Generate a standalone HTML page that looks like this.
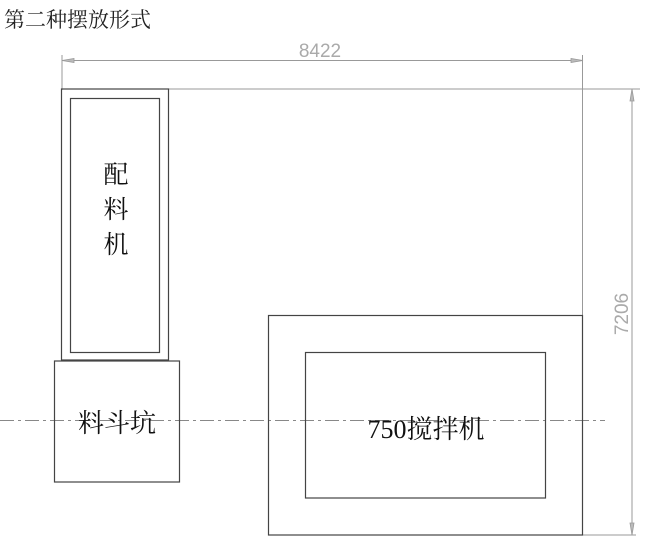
<!DOCTYPE html>
<html><head><meta charset="utf-8"><style>
html,body{margin:0;padding:0;background:#fff;}
svg{display:block;}
</style></head><body>
<svg width="660" height="551" viewBox="0 0 660 551" xmlns="http://www.w3.org/2000/svg">
<rect width="660" height="551" fill="#fff"/>
<text x="4" y="27" font-family="Noto Serif CJK SC, Liberation Serif, serif" font-size="21" fill="#222">第二种摆放形式</text>
<g stroke="#999" stroke-width="1" fill="none">
<line x1="62" y1="55" x2="62" y2="90"/>
<line x1="582.5" y1="55" x2="582.5" y2="535"/>
<line x1="62" y1="60.5" x2="583" y2="60.5"/>
<line x1="169" y1="89" x2="640" y2="89"/>
<line x1="632" y1="89" x2="632" y2="535"/>
<line x1="582" y1="535" x2="636" y2="535"/>
</g>
<g fill="#bbb" stroke="#999" stroke-width="0.8">
<polygon points="62,60.5 74,58.5 74,62.5"/>
<polygon points="583,60.5 571,58.5 571,62.5"/>
<polygon points="632,89 630,101 634,101"/>
<polygon points="632,535 630,523 634,523"/>
</g>
<text x="320" y="57" text-anchor="middle" font-family="Liberation Sans, sans-serif" font-size="19" fill="#aaa">8422</text>
<text transform="translate(628,314) rotate(-90)" text-anchor="middle" font-family="Liberation Sans, sans-serif" font-size="19" fill="#aaa">7206</text>
<line x1="0" y1="420.5" x2="605" y2="420.5" stroke="#888" stroke-width="1" stroke-dasharray="14,4,3,4"/>
<g fill="none" stroke="#444" stroke-width="1.2">
<rect x="61.5" y="89" width="107" height="271"/>
<rect x="70.5" y="98.5" width="89" height="254"/>
<rect x="54.5" y="361" width="125" height="121"/>
<rect x="268.5" y="315.5" width="314" height="219.5"/>
<rect x="305.5" y="352.5" width="240" height="145.5"/>
</g>
<g font-family="Noto Serif CJK SC, Liberation Serif, serif" fill="#111" text-anchor="middle">
<text x="116" y="183" font-size="25">配</text>
<text x="116" y="218" font-size="25">料</text>
<text x="116" y="253" font-size="25">机</text>
<text x="117" y="432" font-size="26">料斗坑</text>
<text x="426" y="438" font-size="26"><tspan font-family="Liberation Serif, serif">750</tspan>搅拌机</text>
</g>
</svg>
</body></html>
